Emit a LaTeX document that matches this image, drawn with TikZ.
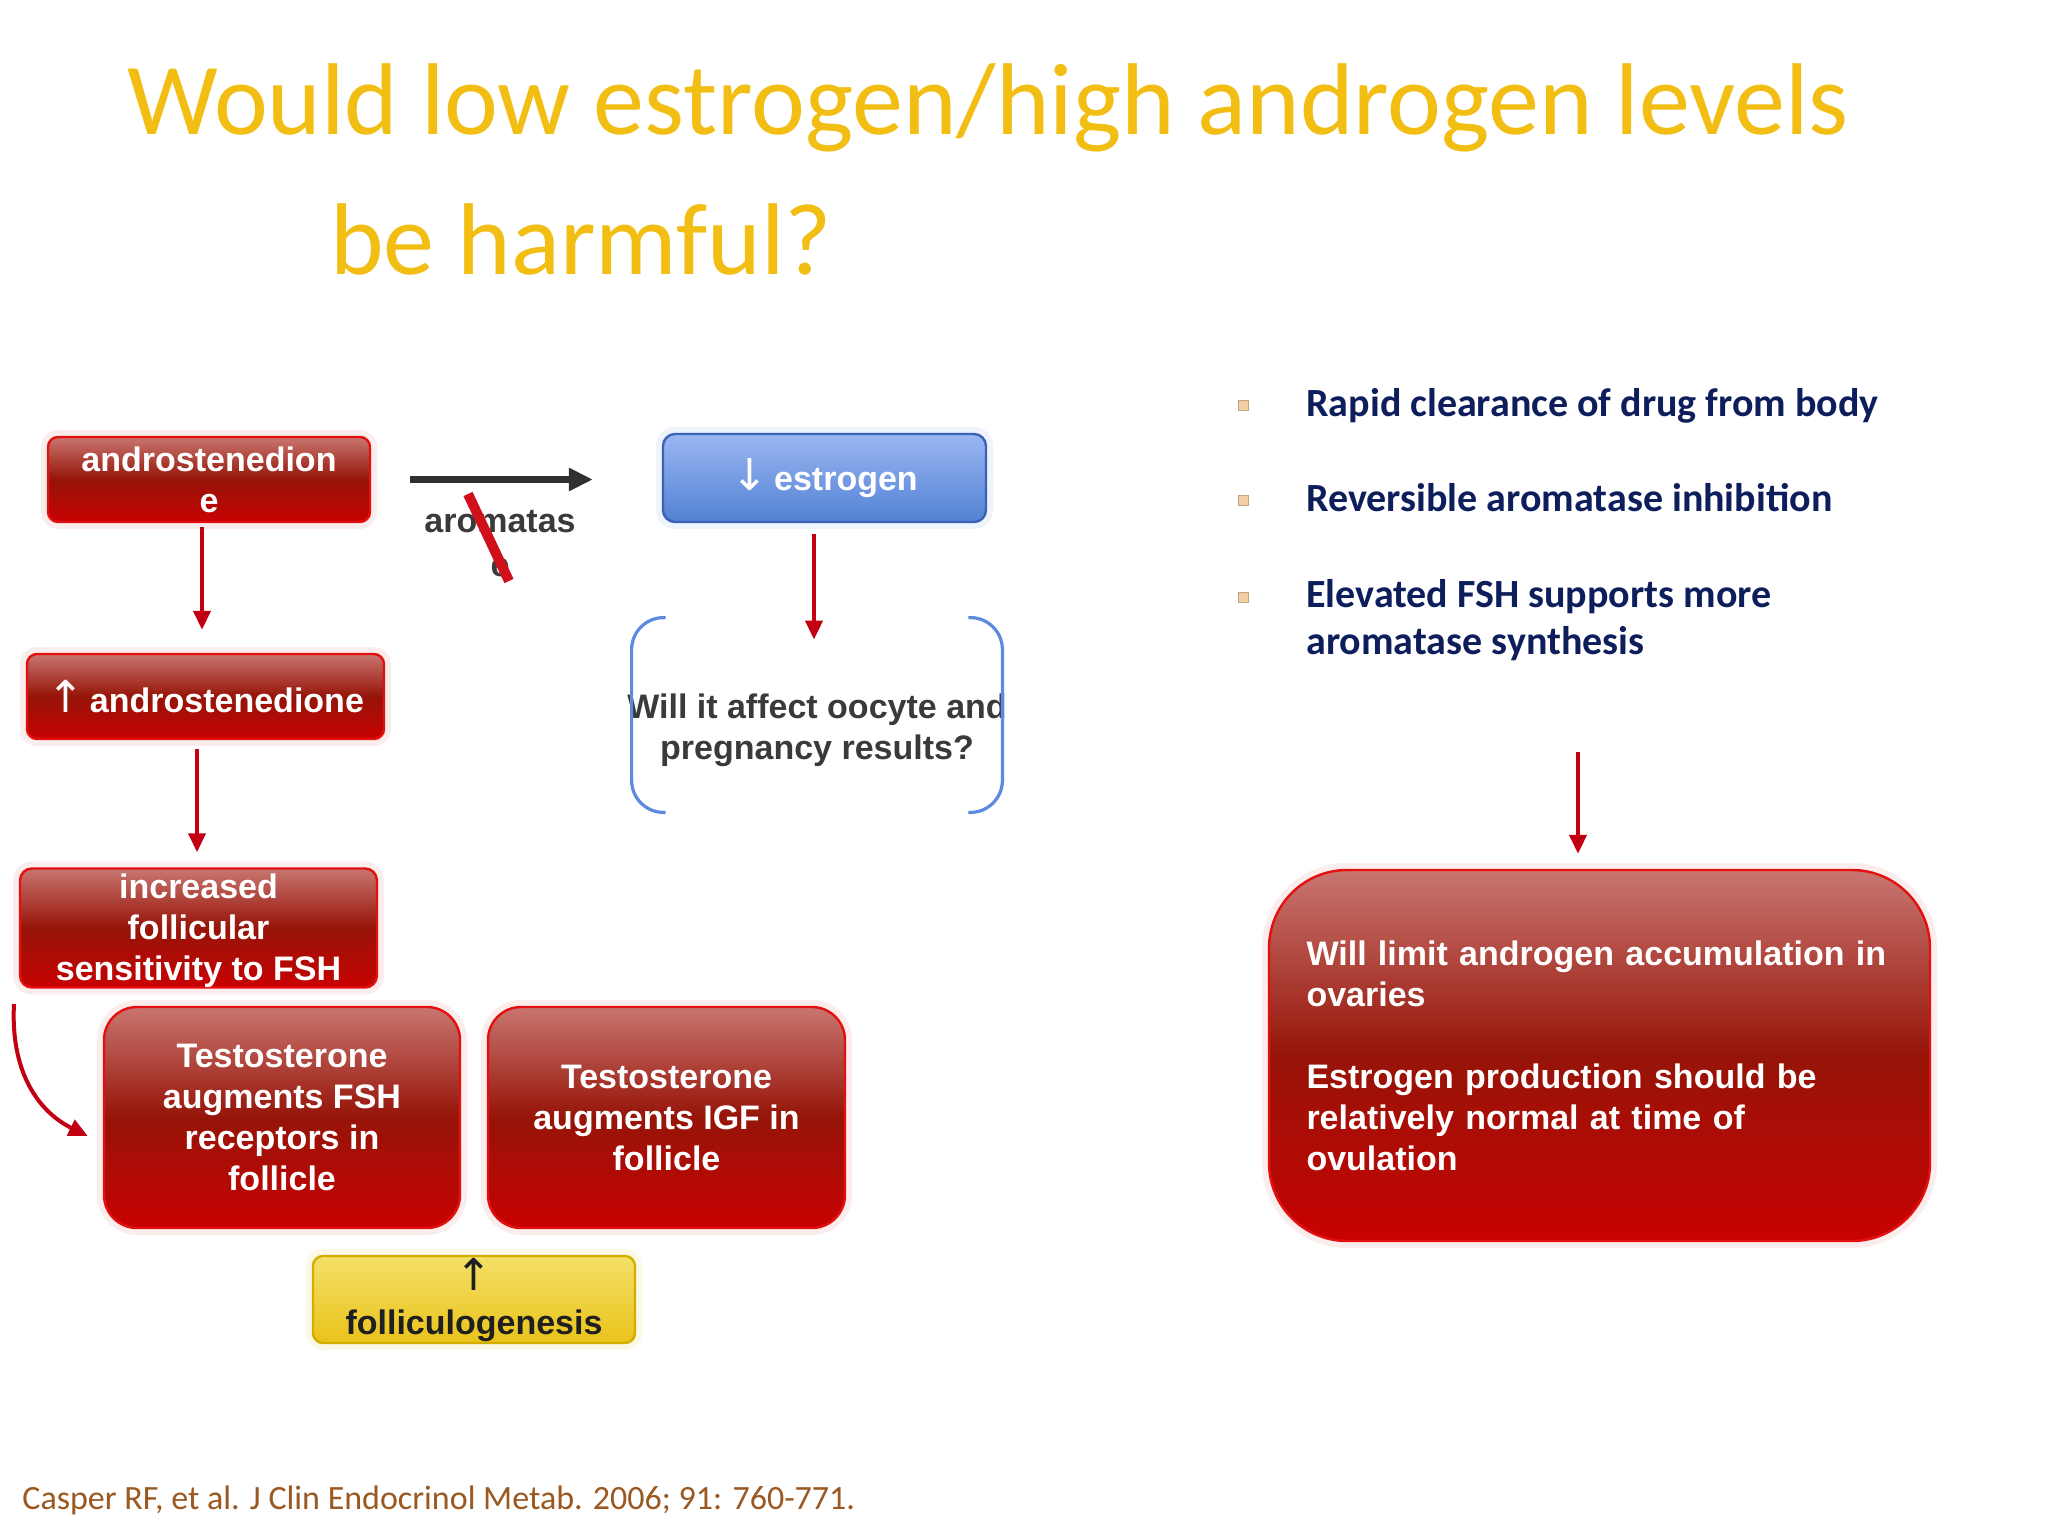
\documentclass[tikz,border=0pt]{standalone}
\usepackage{fontspec}
\setmainfont{Liberation Sans}
\newfontfamily\calibri{Carlito}
\newfontfamily\arrowfont{DejaVu Sans}
\usetikzlibrary{arrows.meta,shadings,calc}
\definecolor{gold}{HTML}{F2BE14}
\definecolor{navy}{HTML}{0E1E5C}
\definecolor{citebrown}{HTML}{9B5820}
\definecolor{redtop}{HTML}{C87670}
\definecolor{redmid}{HTML}{961408}
\definecolor{redbot}{HTML}{C80202}
\definecolor{rededge}{HTML}{E41010}
\definecolor{glow}{HTML}{FCEDED}
\definecolor{bluetop}{HTML}{9AB6F2}
\definecolor{bluebot}{HTML}{5282D4}
\definecolor{blueedge}{HTML}{3C62B6}
\definecolor{blueglow}{HTML}{EEF3FC}
\definecolor{yeltop}{HTML}{F4E068}
\definecolor{yelbot}{HTML}{E9C31A}
\definecolor{yeledge}{HTML}{D2AE00}
\definecolor{yelglow}{HTML}{FCF8E6}
\definecolor{arrred}{HTML}{C20012}
\definecolor{arrblack}{HTML}{303030}
\definecolor{slashred}{HTML}{D0101A}
\definecolor{brkblue}{HTML}{5B8AE0}
\definecolor{qgray}{HTML}{3A3A3A}
\definecolor{bulletc}{HTML}{F3CFA5}
\newcommand{\uparr}{{\arrowfont\mdseries\fontsize{22}{20}\selectfont ↑}}
\newcommand{\downarr}{{\arrowfont\mdseries\fontsize{22}{20}\selectfont ↓}}
\tikzset{
  boxfont/.style={font=\bfseries\fontsize{17}{20.5}\selectfont},
  redbox/.style={boxfont, rounded corners=5pt, draw=rededge, line width=1.2pt,
    top color=redtop, bottom color=redbot, middle color=redmid, text=white,
    align=center, inner ysep=0pt, preaction={draw=glow, line width=7pt}},
  bluebox/.style={boxfont, rounded corners=6pt, draw=blueedge, line width=1.2pt,
    top color=bluetop, bottom color=bluebot, text=white, align=center,
    preaction={draw=blueglow, line width=7pt}},
  yelbox/.style={boxfont, rounded corners=5pt, draw=yeledge, line width=1.2pt,
    top color=yeltop, bottom color=yelbot, text=black!88, align=center,
    inner ysep=0pt, preaction={draw=yelglow, line width=7pt}},
  redarr/.style={draw=arrred, line width=2pt, -{Triangle[width=8.5pt,length=9.5pt]}},
  blackarr/.style={draw=arrblack, line width=3.2pt, -{Triangle[width=11pt,length=12pt]}},
  brk/.style={draw=brkblue, line width=1.6pt, rounded corners=16pt},
  bul/.style={fill=bulletc, draw=bulletc!80!black, line width=0.3pt, minimum size=5pt, inner sep=0pt},
  btext/.style={font=\calibri\bfseries\fontsize{20}{23.5}\selectfont, text=navy, inner sep=0pt},
  titletext/.style={font=\calibri\fontsize{51}{60}\selectfont, text=gold, inner sep=0pt},
}
\begin{document}
\begin{tikzpicture}[x=0.5pt,y=-0.5pt]
\useasboundingbox[fill=white] (0,0) rectangle (2048,1536);

% title
\node[titletext, anchor=base west] (tl1) at (127,134) {Would low estrogen/high androgen levels};
\node[titletext, anchor=base west] (tl2) at (330,274) {be harmful?};

% left column boxes
\node[redbox, minimum width=161pt, minimum height=42.5pt] (b1) at (209,479.5) {androstenedion\\e};
\node[redbox, minimum width=178.5pt, minimum height=42.5pt] (b2) at (205.5,696.5) {\uparr\hspace{3pt}androstenedione};
\node[redbox, rounded corners=6pt, minimum width=178.5pt, minimum height=58pt] (b3) at (198.5,928) {\rule{0pt}{15pt}increased\\follicular\\sensitivity to FSH};
\node[redbox, rounded corners=16.5pt, minimum width=178pt, minimum height=110.5pt] (b4) at (282,1117.5) {Testosterone\\augments FSH\\receptors in\\follicle};
\node[redbox, rounded corners=16.5pt, minimum width=178.5pt, minimum height=110.5pt] (b5) at (666.5,1117.5) {Testosterone\\augments IGF in\\follicle};
\node[yelbox, minimum width=161pt, minimum height=43.5pt, font=\bfseries\fontsize{17}{22}\selectfont] (fol) at (474,1299.5) {\uparr\\folliculogenesis};

% middle column
\node[bluebox, minimum width=161.5pt, minimum height=44pt] (est) at (824.5,478) {\raisebox{-2pt}{\downarr\hspace{3pt}estrogen}};
\node[minimum width=185pt, minimum height=97pt, inner sep=0pt] (qbox) at (817,715) {};
\node[boxfont, text=qgray, align=center, inner sep=0pt] (q) at (817,730) {Will it affect oocyte and\\pregnancy results?};
\draw[brk] ([xshift=17pt]qbox.north west) -- (qbox.north west) -- (qbox.south west) -- ([xshift=17pt]qbox.south west);
\draw[brk] ([xshift=-17pt]qbox.north east) -- (qbox.north east) -- (qbox.south east) -- ([xshift=-17pt]qbox.south east);

% aromatase label and slash
\node[boxfont, text=qgray, align=center, inner sep=0pt, font=\bfseries\fontsize{17}{22}\selectfont] (aro) at (500,544) {aromatas\\e};
\draw[slashred, line width=5pt] (468,494) -- (509,581);

% connectors
\draw[blackarr] ([xshift=19.5pt]b1.east) -- ([xshift=-34.5pt]b1.east -| est.west);
\draw[redarr] ([xshift=-3.5pt,yshift=-2pt]b1.south) -- ([xshift=-1.75pt,yshift=11.5pt]b2.north);
\draw[redarr] ([xshift=-4.25pt,yshift=-4.5pt]b2.south) -- ([xshift=-0.75pt,yshift=7.5pt]b3.north);
\draw[redarr] ([xshift=-5.25pt,yshift=-5.5pt]est.south) -- ([xshift=-1.5pt,yshift=-11pt]qbox.north);
\coordinate (cs) at (14,1004);
\coordinate (ce) at ([xshift=-7.5pt,yshift=-9.25pt]b4.west);
\draw[redarr] (cs) .. controls (10,1080) and (45,1115) .. (ce);

% right column
\node[bul] (bu1) at (1243,405) {};
\node[bul] (bu2) at (1243,500) {};
\node[bul] (bu3) at (1243,597) {};
\node[btext, anchor=base west] (t1) at (1306,416) {Rapid clearance of drug from body};
\node[btext, anchor=base west] (t2) at (1306,511) {Reversible aromatase inhibition};
\node[btext, anchor=base west] (t3) at (1306,607) {Elevated FSH supports more};
\node[btext, anchor=base west] (t3b) at (1306,654) {aromatase synthesis};

\node[redbox, rounded corners=39pt, minimum width=330.5pt, minimum height=185.5pt,
  align=left, text width=293pt, inner xsep=18.5pt] (big) at (1599.5,1055.5)
  {Will limit androgen accumulation in\\ovaries\\[20.5pt]Estrogen production should be\\relatively normal at time of\\ovulation};
\coordinate (ra) at (1578,752);
\draw[redarr] (ra) -- ([xshift=-10.75pt,yshift=7.5pt]big.north);

% citation
\node[font=\calibri\fontsize{17}{20}\selectfont, text=citebrown, anchor=base west, inner sep=0pt] (cit) at (22,1509) {Casper RF, et al. J Clin Endocrinol Metab. 2006; 91: 760-771.};
\end{tikzpicture}
\end{document}
